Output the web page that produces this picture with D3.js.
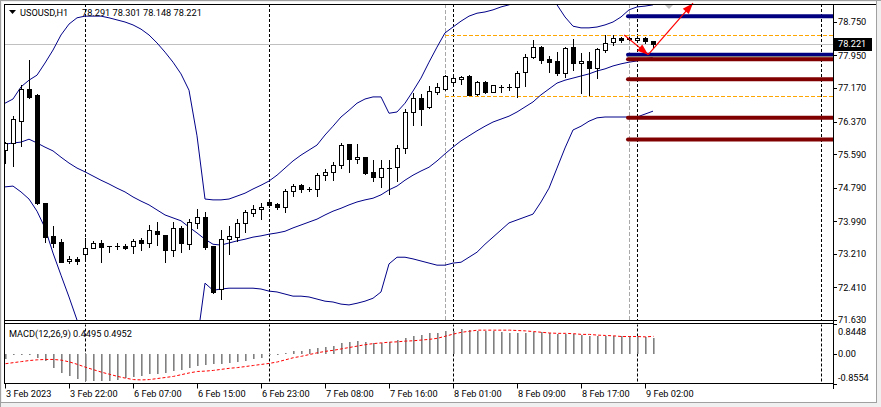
<!DOCTYPE html>
<html><head><meta charset="utf-8">
<script src="https://cdn.jsdelivr.net/npm/d3@7"></script>
<style>html,body{margin:0;padding:0;background:#fff;overflow:hidden}svg text{font-family:Roboto,"Liberation Sans",sans-serif;font-size:9.2px}</style>
</head><body>
<svg id="c" width="881" height="407"></svg>
<script>
// ---------- DATA ----------
const symbolLabel = "USOUSD,H1";
const headerValues = "78.291 78.301 78.148 78.221";
const macdTitle = "MACD(12,26,9) 0.4495 0.4952";

const openP = [
 75.69,75.86,76.38,77.15,77.01,74.42,73.64,73.49,73.04,73.09,
 73.21,73.35,73.47,73.40,73.40,73.40,73.40,73.54,73.47,73.75,
 73.66,73.30,73.83,73.44,73.95,74.09,73.40,72.37,73.56,73.61,
 73.95,74.19,74.28,74.45,74.40,74.33,74.71,74.85,74.76,74.76,
 75.09,75.17,75.33,75.83,75.48,75.52,75.17,75.05,75.26,75.28,
 75.74,76.60,76.93,76.72,77.08,77.15,77.32,77.39,77.46,77.03,
 77.32,77.08,77.20,77.20,77.20,77.55,77.91,78.15,77.87,77.82,
 77.53,78.15,77.77,77.82,77.65,78.08,78.27,78.37,78.37,78.32,
 78.37,78.291];
const highP = [
 75.88,76.50,77.24,77.84,77.03,74.43,73.87,73.56,73.16,73.13,
 73.59,73.52,73.54,73.41,73.47,73.44,73.56,73.59,73.90,73.97,
 73.67,73.97,73.87,74.04,74.28,74.21,73.40,73.78,73.87,74.04,
 74.26,74.38,74.42,74.46,74.42,74.76,74.88,74.88,74.81,75.14,
 75.24,75.40,75.86,75.84,75.84,75.53,75.45,75.45,75.45,75.81,
 76.67,77.05,77.03,77.22,77.29,77.48,77.51,77.46,77.48,77.34,
 77.34,77.24,77.24,77.27,77.58,77.99,78.32,78.17,77.94,78.03,
 78.15,78.34,78.01,78.03,78.13,78.44,78.44,78.39,78.39,78.39,
 78.38,78.301];
const lowP = [
 75.38,75.31,75.79,76.93,74.40,73.49,73.37,73.01,72.99,72.97,
 73.11,73.34,73.01,73.25,73.32,73.32,73.23,73.30,73.37,73.42,
 73.02,73.16,73.25,73.32,73.83,73.32,72.27,72.13,73.21,73.52,
 73.73,74.11,74.04,74.33,74.28,74.21,74.59,74.69,74.71,74.59,
 74.97,74.97,75.26,75.17,75.38,75.12,74.95,74.81,74.64,74.95,
 75.62,76.29,76.29,76.69,77.03,77.12,77.24,77.27,77.00,77.00,
 77.05,77.07,77.08,77.12,76.96,77.22,77.90,77.77,77.55,77.48,
 77.44,77.60,77.05,77.00,77.41,78.03,78.20,78.27,78.32,78.27,
 78.25,78.148];
const closeP = [
 75.86,76.43,77.15,76.96,74.42,73.61,73.47,73.02,73.09,73.04,
 73.35,73.47,73.37,73.39,73.40,73.35,73.52,73.47,73.78,73.68,
 73.30,73.83,73.47,73.97,74.09,73.37,72.30,73.56,73.64,73.95,
 74.21,74.28,74.33,74.38,74.33,74.71,74.83,74.76,74.76,75.09,
 75.17,75.33,75.81,75.48,75.52,75.14,75.05,75.26,75.26,75.74,
 76.60,76.93,76.67,77.10,77.20,77.46,77.41,77.44,77.01,77.32,
 77.08,77.24,77.20,77.20,77.53,77.91,78.15,77.84,77.79,77.53,
 78.13,77.77,77.82,77.65,78.10,78.25,78.37,78.32,78.34,78.37,
 78.30,78.221];

const bbUpper = [
 76.81,76.91,77.20,77.36,77.48,77.77,78.08,78.44,78.70,78.85,
 78.89,78.89,78.89,78.85,78.80,78.75,78.68,78.58,78.44,78.25,
 78.03,77.79,77.51,77.12,76.03,74.52,74.50,74.50,74.52,74.59,
 74.66,74.76,74.85,74.95,75.09,75.26,75.43,75.57,75.69,75.81,
 76.05,76.26,76.48,76.64,76.81,76.91,76.96,76.96,76.57,76.60,
 76.81,77.10,77.41,77.79,78.15,78.49,78.63,78.77,78.89,78.96,
 78.99,79.04,79.11,79.16,79.23,79.28,79.32,79.32,79.28,79.16,
 78.87,78.65,78.61,78.61,78.63,78.68,78.75,78.87,79.04,79.11,
 79.13,79.16];
const bbMiddle = [
 75.83,75.86,75.88,75.95,75.86,75.76,75.67,75.52,75.38,75.26,
 75.17,75.07,74.97,74.88,74.78,74.69,74.57,74.47,74.38,74.26,
 74.14,74.07,74.00,73.85,73.71,73.56,73.44,73.42,73.47,73.52,
 73.56,73.61,73.64,73.68,73.71,73.75,73.83,73.90,73.97,74.04,
 74.14,74.23,74.30,74.38,74.45,74.50,74.54,74.62,74.74,74.83,
 74.97,75.09,75.19,75.28,75.43,75.60,75.76,75.91,76.03,76.15,
 76.26,76.36,76.43,76.50,76.60,76.72,76.84,77.01,77.15,77.29,
 77.36,77.41,77.46,77.51,77.58,77.63,77.70,77.75,77.79,77.82,
 77.87,77.91];
const bbLower = [
 74.81,74.83,74.69,74.52,74.23,73.83,73.23,72.70,72.18,71.63,
 71.40,71.20,71.05,70.90,70.75,70.62,70.50,70.40,70.32,70.28,
 70.28,70.35,70.50,70.60,71.10,72.51,72.34,72.37,72.39,72.39,
 72.39,72.39,72.37,72.32,72.30,72.25,72.20,72.20,72.18,72.13,
 72.08,72.06,72.01,71.99,72.03,72.08,72.15,72.30,72.97,73.13,
 73.13,73.09,73.04,72.99,72.94,72.94,72.99,73.01,73.13,73.25,
 73.44,73.61,73.78,73.95,74.02,74.09,74.16,74.45,74.78,75.26,
 75.74,76.17,76.26,76.38,76.46,76.48,76.48,76.48,76.48,76.48,
 76.55,76.62];

const macdMain = [
 -0.16,-0.04,-0.02,-0.02,-0.11,-0.21,-0.39,-0.54,-0.64,-0.71,
 -0.76,-0.76,-0.76,-0.76,-0.73,-0.68,-0.65,-0.64,-0.58,-0.56,
 -0.54,-0.49,-0.45,-0.39,-0.35,-0.32,-0.30,-0.28,-0.26,-0.23,
 -0.21,-0.14,-0.11,-0.02,-0.02,0.01,0.08,0.09,0.14,0.17,
 0.19,0.23,0.31,0.33,0.36,0.33,0.31,0.31,0.33,0.39,
 0.45,0.50,0.52,0.58,0.59,0.64,0.66,0.70,0.67,0.64,
 0.64,0.64,0.61,0.59,0.58,0.59,0.61,0.61,0.58,0.55,
 0.55,0.55,0.52,0.50,0.50,0.50,0.50,0.50,0.50,0.50,
 0.47,0.4495];
const macdSignal = [
 -0.28,-0.25,-0.22,-0.19,-0.17,-0.16,-0.16,-0.18,-0.23,-0.30,
 -0.38,-0.45,-0.52,-0.58,-0.64,-0.69,-0.73,-0.74,-0.73,-0.70,
 -0.67,-0.64,-0.59,-0.54,-0.50,-0.49,-0.47,-0.44,-0.41,-0.39,
 -0.36,-0.33,-0.30,-0.27,-0.23,-0.17,-0.11,-0.07,-0.02,0.03,
 0.07,0.10,0.14,0.18,0.22,0.26,0.29,0.31,0.33,0.34,
 0.36,0.37,0.39,0.41,0.44,0.50,0.56,0.61,0.64,0.67,
 0.67,0.67,0.67,0.67,0.66,0.65,0.63,0.61,0.59,0.58,
 0.58,0.57,0.55,0.55,0.53,0.52,0.51,0.49,0.49,0.49,
 0.48,0.4952];

const priceTicks = [78.750,77.950,77.170,76.370,75.590,74.790,73.990,73.210,72.410,71.630];
const macdTicks = [0.8448, 0, -0.8554];
const macdTickLabels = ["0.8448","0.00","-0.8554"];
const timeLabels = ["3 Feb 2023","3 Feb 22:00","6 Feb 07:00","6 Feb 15:00","6 Feb 23:00","7 Feb 08:00","7 Feb 16:00","8 Feb 01:00","8 Feb 09:00","8 Feb 17:00","9 Feb 02:00"];
const timeLabelBars = [0,8,16,24,32,40,48,56,64,72,80];
const currentPrice = 78.221;
const daySeparatorBars = [10,33,56,79,102];
const markerBars = [55,78];
const zoneLevels = [78.44, 76.98];       // dotted levels starting at marker bar 55
const blueLevels = [78.89, 77.97];
const redLevels = [77.86, 77.38, 76.46, 75.94];
const grayLevel = 77.92;
const levelStartBar = 78;
const arrowBars = [77.4, 80.4, 86.0];
const arrowPrices = [78.44, 77.97, 79.20];
const shiftBar = 83;

// ---------- SCALES ----------
const W = 881, H = 407;
const L = 4, R = 833, MT = 4, MB = 320.5, ST = 323.5, SB = 383.5;
const x = d3.scaleLinear().domain([-0.5, 103.5]).range([1, 833]);
const y = d3.scaleLinear().domain([71.63, 78.75]).range([320, 22]);
const ym = d3.scaleLinear().domain([-0.8554, 0.8448]).range([384, 324]);

const svg = d3.select("#c");
// window background
svg.append("rect").attr("width",W).attr("height",H).attr("fill","#f0f0f0");
svg.append("rect").attr("x",2).attr("y",2).attr("width",874).attr("height",400).attr("fill","#fff");
svg.append("line").attr("x1",0).attr("x2",W).attr("y1",0.5).attr("y2",0.5).attr("stroke","#a0a0a0");
svg.append("line").attr("x1",0.5).attr("x2",0.5).attr("y1",0).attr("y2",H).attr("stroke","#a0a0a0");
svg.append("line").attr("x1",876.5).attr("x2",876.5).attr("y1",0).attr("y2",403).attr("stroke","#a0a0a0");
svg.append("line").attr("x1",0).attr("x2",877).attr("y1",402.5).attr("y2",402.5).attr("stroke","#a0a0a0");

const defs = svg.append("defs");
defs.append("clipPath").attr("id","cm").append("rect").attr("x",L+1).attr("y",MT+1).attr("width",R-L-1).attr("height",MB-MT-1);
defs.append("clipPath").attr("id","cs").append("rect").attr("x",L+1).attr("y",ST+1).attr("width",R-L-1).attr("height",SB-ST-1);

const gm = svg.append("g").attr("clip-path","url(#cm)");
const gs = svg.append("g").attr("clip-path","url(#cs)");
const px = i => Math.round(x(i));

// day separators (both panels)
daySeparatorBars.forEach(b => {
  [[gm, MT, MB],[gs, ST, SB]].forEach(([g,a,c]) => g.append("line")
    .attr("x1",px(b)+0.5).attr("x2",px(b)+0.5).attr("y1",a).attr("y2",c)
    .attr("stroke","#000").attr("stroke-dasharray","3,2"));
});
// gray markers
markerBars.forEach(b => gm.append("line").attr("x1",px(b)+0.5).attr("x2",px(b)+0.5)
  .attr("y1",MT).attr("y2",MB).attr("stroke","#a8a8a8").attr("stroke-dasharray","4,2"));
// bid line
gm.append("line").attr("x1",L).attr("x2",R).attr("y1",Math.round(y(currentPrice))+0.5).attr("y2",Math.round(y(currentPrice))+0.5).attr("stroke","#c0c0c0");
// orange zone lines
zoneLevels.forEach(p => gm.append("line").attr("x1",px(markerBars[0])).attr("x2",R)
  .attr("y1",Math.round(y(p))+0.5).attr("y2",Math.round(y(p))+0.5)
  .attr("stroke","#ffa500").attr("stroke-dasharray","4,2"));

// Bollinger bands
const line = d3.line().x((d,i)=>x(i)).y(d=>y(d));
[bbUpper,bbMiddle,bbLower].forEach(arr => gm.append("path").attr("d",line(arr))
  .attr("fill","none").attr("stroke","#000088").attr("stroke-width",1));

// candles
const bars = d3.range(openP.length).map(i => ({i,o:openP[i],h:highP[i],l:lowP[i],c:closeP[i]}));
const cg = gm.append("g");
bars.forEach(b => {
  const cx = px(b.i);
  const yh = Math.round(y(b.h)), yl = Math.round(y(b.l));
  const yo = Math.round(y(b.o)), yc = Math.round(y(b.c));
  cg.append("line").attr("x1",cx+0.5).attr("x2",cx+0.5).attr("y1",yh).attr("y2",yl+1).attr("stroke","#000");
  const top = Math.min(yo,yc), bot = Math.max(yo,yc);
  if (bot - top < 1) {
    cg.append("line").attr("x1",cx-2).attr("x2",cx+3).attr("y1",top+0.5).attr("y2",top+0.5).attr("stroke","#000");
  } else {
    cg.append("rect").attr("x",cx-1.5).attr("y",top+0.5).attr("width",4).attr("height",bot-top)
      .attr("fill", b.c >= b.o ? "#fff" : "#000").attr("stroke","#000");
  }
});

// thick levels
const lx1 = x(levelStartBar) - 1;
blueLevels.forEach(p => gm.append("line").attr("x1",lx1).attr("x2",R+6).attr("y1",y(p)).attr("y2",y(p))
  .attr("stroke","#000080").attr("stroke-width",4).attr("stroke-linecap","round"));
gm.append("line").attr("x1",lx1).attr("x2",R+6).attr("y1",y(grayLevel)).attr("y2",y(grayLevel))
  .attr("stroke","#808080").attr("stroke-width",1.4);
redLevels.forEach(p => gm.append("line").attr("x1",lx1).attr("x2",R+6).attr("y1",y(p)).attr("y2",y(p))
  .attr("stroke","#800000").attr("stroke-width",4).attr("stroke-linecap","round"));

// red arrows
function arrow(x0,y0,x1,y1){
  svg.append("line").attr("x1",x0).attr("y1",y0).attr("x2",x1).attr("y2",y1).attr("stroke","#ff0000").attr("stroke-width",1.2);
  const dx=x1-x0, dy=y1-y0, len=Math.hypot(dx,dy), ux=dx/len, uy=dy/len, nx=-uy, ny=ux;
  const bx=x1-11*ux, by=y1-11*uy;
  svg.append("path").attr("d",`M${x1},${y1}L${bx+4*nx},${by+4*ny}L${bx-4*nx},${by-4*ny}Z`).attr("fill","#ff0000");
}
for (let k=0;k<arrowBars.length-1;k++) arrow(x(arrowBars[k]),y(arrowPrices[k]),x(arrowBars[k+1]),y(arrowPrices[k+1]));

// shift marker
const sx = x(shiftBar);
svg.append("path").attr("d",`M${sx-5},4L${sx+5},4L${sx},9Z`).attr("fill","#c0c0c0");

// MACD histogram + signal
const zy = Math.round(ym(0));
macdMain.forEach((v,i) => {
  const yv = Math.round(ym(v));
  gs.append("rect").attr("x",px(i)).attr("width",1.6)
    .attr("y",Math.min(yv,zy)).attr("height",Math.max(1,Math.abs(yv-zy))).attr("fill","#808080");
});
gs.append("path").attr("d",d3.line().x((d,i)=>x(i)+0.5).y(d=>ym(d))(macdSignal))
  .attr("fill","none").attr("stroke","#ff0000").attr("stroke-dasharray","3,2");

// borders
const bl = (x1,y1,x2,y2)=>svg.append("line").attr("x1",x1).attr("y1",y1).attr("x2",x2).attr("y2",y2).attr("stroke","#000");
bl(L,4.5,876,4.5); bl(L+0.5,4,L+0.5,384); bl(R+0.5,4,R+0.5,389);
bl(L,MB,R+1,MB); bl(L,ST,R+1,ST); bl(L,SB,R+1,SB);

// price axis
priceTicks.forEach(p => {
  const yy = y(p);
  bl(R, Math.round(yy)+0.5, R+4, Math.round(yy)+0.5);
  svg.append("text").attr("x",838).attr("y",yy+3.3).text(p.toFixed(3));
});
// current price tag
svg.append("rect").attr("x",834).attr("y",Math.round(y(currentPrice))-6).attr("width",38).attr("height",13).attr("fill","#000");
svg.append("text").attr("x",838).attr("y",y(currentPrice)+3.3).attr("fill","#fff").text(currentPrice.toFixed(3));

// MACD axis
macdTicks.forEach((v,k) => {
  const yy = ym(v);
  bl(R, Math.round(yy)+0.5, R+4, Math.round(yy)+0.5);
  const ty = Math.max(ST+11.5, Math.min(SB-2.5, yy+3.3));
  svg.append("text").attr("x",838).attr("y",ty).text(macdTickLabels[k]);
});

// time axis
timeLabels.forEach((t,k) => {
  const xx = px(timeLabelBars[k]);
  bl(xx+0.5, SB, xx+0.5, SB+5);
  svg.append("text").attr("x",xx+1).attr("y",396.5).text(t);
});

// headers
svg.append("path").attr("d","M9,10L16,10L12.5,14Z").attr("fill","#000");
svg.append("text").attr("x",20).attr("y",16).text(symbolLabel);
svg.append("text").attr("x",82).attr("y",16).text(headerValues);
svg.append("text").attr("x",9).attr("y",337).text(macdTitle);
</script>
</body></html>
